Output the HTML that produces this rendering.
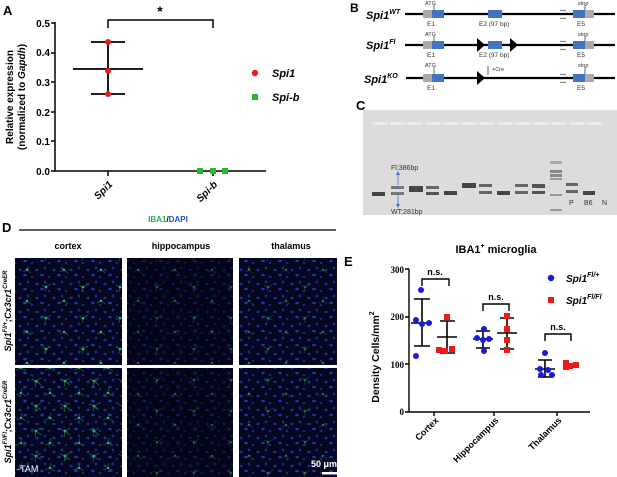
<!DOCTYPE html>
<html><head><meta charset="utf-8"><style>
body{margin:0;background:#fff}
svg{display:block;font-family:"Liberation Sans",Arial,sans-serif}
</style></head><body>
<svg width="617" height="477" viewBox="0 0 617 477" xmlns="http://www.w3.org/2000/svg">
<defs>
<pattern id="nuc" width="17" height="14" patternUnits="userSpaceOnUse">
<rect width="17" height="14" fill="#05071f"/>
<ellipse cx="3" cy="4" rx="1.6" ry="1.2" fill="#1c2fa8"/>
<ellipse cx="11" cy="2" rx="1.3" ry="1.5" fill="#1a2a95"/>
<ellipse cx="8" cy="9" rx="1.8" ry="1.3" fill="#2035b5"/>
<ellipse cx="15" cy="11" rx="1.3" ry="1.1" fill="#18288c"/>
</pattern>
<pattern id="mg" width="37" height="31" patternUnits="userSpaceOnUse">
<circle cx="9" cy="8" r="1.3" fill="#3fd9a0"/>
<path d="M5 6 L9 8 L14 5 M9 8 L8 13" stroke="#1a8040" stroke-width="0.6" fill="none"/>
<circle cx="27" cy="22" r="1.2" fill="#40d8b0"/>
<path d="M23 24 L27 22 L31 25" stroke="#177a40" stroke-width="0.6" fill="none"/>
</pattern>
<pattern id="mg2" width="29" height="25" patternUnits="userSpaceOnUse">
<circle cx="7" cy="6" r="1.3" fill="#3fd9a0"/>
<path d="M2 4 L7 6 L12 3 M7 6 L6 12 M7 6 L12 10" stroke="#1c8a48" stroke-width="0.6" fill="none"/>
<circle cx="21" cy="18" r="1.2" fill="#40d8b0"/>
<path d="M16 20 L21 18 L26 21 M21 18 L22 13" stroke="#1a8040" stroke-width="0.6" fill="none"/>
</pattern>
</defs>

<!-- Panel A -->
<text x="3" y="15" font-size="13" font-weight="bold">A</text>
<g font-size="10" font-weight="bold" text-anchor="end">
<text x="50" y="27">0.5</text><text x="50" y="56">0.4</text><text x="50" y="86">0.3</text>
<text x="50" y="116">0.2</text><text x="50" y="145">0.1</text><text x="50" y="175">0.0</text>
</g>
<g stroke="#000" stroke-width="1.5" fill="none">
<path d="M55 22 V171 H266"/>
<path d="M51 23H55 M51 53H55 M51 82H55 M51 112H55 M51 141H55 M51 171H55"/>
<path d="M108 171V176 M213 171V176"/>
<path d="M108 28V20H213V28"/>
<path d="M73 69H143 M91 42H125 M91 94H125 M108 42V94" stroke-width="1.8"/>
</g>
<text x="160" y="16" font-size="14" font-weight="bold" text-anchor="middle">*</text>
<circle cx="108" cy="42" r="3" fill="#f01818"/><circle cx="108" cy="71" r="3" fill="#f01818"/><circle cx="108" cy="94" r="3" fill="#f01818"/>
<rect x="197" y="168" width="6" height="6" fill="#2cb82c"/><rect x="210" y="168" width="6" height="6" fill="#2cb82c"/><rect x="222" y="168" width="6" height="6" fill="#2cb82c"/>
<circle cx="255" cy="73" r="3.2" fill="#f01818"/><rect x="252" y="94" width="6" height="6" fill="#2cb82c"/>
<text x="272" y="77" font-size="11" font-weight="bold" font-style="italic">Spi1</text>
<text x="272" y="101" font-size="11" font-weight="bold" font-style="italic">Spi-b</text>
<g font-size="10" font-weight="bold" text-anchor="middle">
<text transform="translate(13,97) rotate(-90)">Relative expression</text>
<text transform="translate(25,97) rotate(-90)">(normalized to <tspan font-style="italic">Gapdh</tspan>)</text>
</g>
<g font-size="10" font-weight="bold" font-style="italic" text-anchor="end">
<text transform="translate(113,185) rotate(-45)">Spi1</text>
<text transform="translate(218,185) rotate(-45)">Spi-b</text>
</g>

<!-- Panel B -->
<text x="350" y="12" font-size="12" font-weight="bold">B</text>
<g font-size="11" font-weight="bold" font-style="italic">
<text x="366" y="19">Spi1<tspan font-size="7" dy="-5">WT</tspan></text>
<text x="366" y="49">Spi1<tspan font-size="7" dy="-5">Fl</tspan></text>
<text x="364" y="83">Spi1<tspan font-size="7" dy="-5">KO</tspan></text>
</g>
<g stroke="#000" stroke-width="2.2"><path d="M405 14H615 M405 45H615 M406 78H615"/></g>
<g>
<rect x="423" y="10" width="10" height="8" fill="#aaa"/><rect x="432" y="10" width="12" height="8" fill="#4472c4"/>
<rect x="488" y="10" width="14" height="8" fill="#4472c4"/>
<rect x="573" y="10" width="12" height="8" fill="#4472c4"/><rect x="585" y="10" width="9" height="8" fill="#aaa"/>
<rect x="423" y="41" width="10" height="8" fill="#aaa"/><rect x="432" y="41" width="12" height="8" fill="#4472c4"/>
<rect x="488" y="41" width="14" height="8" fill="#4472c4"/>
<rect x="573" y="41" width="12" height="8" fill="#4472c4"/><rect x="585" y="41" width="9" height="8" fill="#aaa"/>
<polygon points="477,38 485,45 477,52"/><polygon points="510,38 518,45 510,52"/>
<rect x="423" y="74" width="10" height="8" fill="#aaa"/><rect x="432" y="74" width="12" height="8" fill="#4472c4"/>
<polygon points="477,71 485,78 477,85"/>
<rect x="573" y="74" width="12" height="8" fill="#4472c4"/><rect x="585" y="74" width="9" height="8" fill="#aaa"/>
</g>
<g font-size="5.5" fill="#333">
<text x="425" y="5">ATG</text><text x="425" y="36">ATG</text><text x="425" y="67">ATG</text>
<text x="578" y="5">stop</text><text x="578" y="36">stop</text><text x="578" y="67">stop</text>
<text x="492" y="71">+Cre</text>
</g>
<path d="M434 5V10 M434 36V41 M434 67V74 M585 5V10 M585 36V41 M585 67V74 M488 66V75" stroke="#000" stroke-width="0.6"/>
<g font-size="6.5" fill="#333">
<text x="427" y="26">E1</text><text x="479" y="26">E2 (97 bp)</text><text x="577" y="26">E5</text>
<text x="427" y="57">E1</text><text x="479" y="57">E2 (97 bp)</text><text x="577" y="57">E5</text>
<text x="427" y="90">E1</text><text x="577" y="90">E5</text>
</g>
<g font-size="7" font-weight="bold"><text x="560" y="11">...</text><text x="560" y="19">...</text><text x="560" y="42">...</text><text x="560" y="50">...</text><text x="560" y="75">...</text><text x="560" y="83">...</text></g>

<!-- Panel C -->
<text x="356" y="110" font-size="13" font-weight="bold">C</text>
<rect x="363" y="110" width="254" height="105" fill="#dcdcdc"/>
<g fill="#eaeaea"><rect x="372" y="122" width="16" height="3"/><rect x="390" y="122" width="16" height="3"/><rect x="407" y="122" width="16" height="3"/><rect x="425" y="122" width="16" height="3"/><rect x="443" y="122" width="16" height="3"/><rect x="461" y="122" width="16" height="3"/><rect x="479" y="122" width="16" height="3"/><rect x="497" y="122" width="16" height="3"/><rect x="515" y="122" width="16" height="3"/><rect x="533" y="122" width="16" height="3"/><rect x="551" y="122" width="16" height="3"/><rect x="569" y="122" width="16" height="3"/><rect x="587" y="122" width="16" height="3"/></g>
<g fill="#444">
<rect x="372" y="192" width="13" height="4"/>
<rect x="391" y="186" width="13" height="3" fill="#777"/><rect x="391" y="192" width="13" height="3" fill="#777"/>
<rect x="409" y="186" width="14" height="6"/>
<rect x="426" y="186" width="13" height="3" fill="#666"/><rect x="426" y="192" width="13" height="3" fill="#555"/>
<rect x="444" y="191" width="13" height="4"/>
<rect x="462" y="183" width="14" height="5"/>
<rect x="479" y="184" width="13" height="3" fill="#666"/><rect x="479" y="191" width="13" height="3" fill="#666"/>
<rect x="497" y="191" width="13" height="4"/>
<rect x="515" y="184" width="13" height="3" fill="#666"/><rect x="515" y="191" width="13" height="3" fill="#666"/>
<rect x="532" y="184" width="13" height="4" fill="#555"/><rect x="532" y="191" width="13" height="3" fill="#555"/>
<rect x="550" y="161" width="12" height="3" fill="#aaa"/><rect x="550" y="170" width="12" height="3" fill="#888"/><rect x="550" y="174" width="12" height="3" fill="#888"/><rect x="550" y="178" width="12" height="2" fill="#999"/><rect x="550" y="194" width="12" height="2" fill="#999"/><rect x="550" y="209" width="12" height="2" fill="#999"/>
<rect x="566" y="183" width="12" height="3" fill="#666"/><rect x="566" y="190" width="12" height="3" fill="#666"/>
<rect x="583" y="191" width="12" height="4"/>
</g>
<path d="M398 174V185 M398 194V205" stroke="#4472c4" stroke-width="0.8"/>
<polygon points="396,175 398,171 400,175" fill="#4472c4"/><polygon points="396,204 398,208 400,204" fill="#4472c4"/>
<g font-size="7" fill="#333"><text x="391" y="170">Fl:386bp</text><text x="391" y="214">WT:281bp</text>
<text x="569" y="205">P</text><text x="584" y="205">B6</text><text x="602" y="205">N</text></g>

<!-- Panel D -->
<text x="2" y="232" font-size="13" font-weight="bold">D</text>
<text x="168" y="222" font-size="8" font-weight="bold" text-anchor="middle"><tspan fill="#28b050">IBA1</tspan>/<tspan fill="#2050d0">DAPI</tspan></text>
<line x1="19" y1="230" x2="336" y2="230" stroke="#000" stroke-width="1.3"/>
<g font-size="9" font-weight="bold" text-anchor="middle"><text x="68" y="249">cortex</text><text x="181" y="249">hippocampus</text><text x="291" y="249">thalamus</text></g>
<g>
<rect x="15" y="258" width="107" height="107" fill="url(#nuc)"/><rect x="15" y="258" width="107" height="107" fill="url(#mg)"/>
<rect x="127" y="258" width="106" height="107" fill="#03040f"/><rect x="127" y="258" width="106" height="107" fill="url(#nuc)" opacity="0.5"/><rect x="127" y="258" width="106" height="107" fill="url(#mg)" opacity="0.5"/>
<rect x="239" y="258" width="98" height="107" fill="url(#nuc)"/><rect x="239" y="258" width="98" height="107" fill="url(#mg)" opacity="0.6"/>
<rect x="15" y="368" width="107" height="109" fill="url(#nuc)"/><rect x="15" y="368" width="107" height="109" fill="url(#mg2)"/>
<rect x="127" y="368" width="106" height="109" fill="#03040f"/><rect x="127" y="368" width="106" height="109" fill="url(#nuc)" opacity="0.5"/><rect x="127" y="368" width="106" height="109" fill="url(#mg)" opacity="0.5"/>
<rect x="239" y="368" width="98" height="109" fill="url(#nuc)"/><rect x="239" y="368" width="98" height="109" fill="url(#mg)" opacity="0.6"/>
</g>
<g font-size="9" font-weight="bold" font-style="italic" text-anchor="middle">
<text transform="translate(11,311) rotate(-90)">Spi1<tspan font-size="6" dy="-4">Fl/+</tspan><tspan dy="4">;Cx3cr1</tspan><tspan font-size="6" dy="-4">CreER</tspan></text>
<text transform="translate(11,422) rotate(-90)">Spi1<tspan font-size="6" dy="-4">Fl/Fl</tspan><tspan dy="4">;Cx3cr1</tspan><tspan font-size="6" dy="-4">CreER</tspan></text>
</g>
<text x="17" y="472" font-size="9" fill="#fff">-TAM</text>
<text x="311" y="467" font-size="9" font-weight="bold" fill="#fff">50 μm</text>
<rect x="322" y="472" width="15" height="2.5" fill="#fff"/>

<!-- Panel E -->
<text x="344" y="266" font-size="13" font-weight="bold">E</text>
<text x="496" y="253" font-size="11" font-weight="bold" text-anchor="middle">IBA1<tspan font-size="7" dy="-5">+</tspan><tspan dy="5"> microglia</tspan></text>
<g font-family="Liberation Serif,serif" font-size="9" font-weight="bold" text-anchor="end">
<text x="404" y="273">300</text><text x="404" y="320">200</text><text x="404" y="368">100</text><text x="404" y="415">0</text>
</g>
<g stroke="#000" stroke-width="1.4" fill="none">
<path d="M409 269V412H590 M405 269H409 M405 317H409 M405 364H409 M405 412H409 M434 412V416 M494 412V416 M557 412V416"/>
<path d="M422 286V279H449V286 M483 311V304H509V311 M545 341V334H571V341"/>
<g stroke-width="1.6">
<path d="M411 323H432 M414 299H430 M414 346H430 M422 299V346"/>
<path d="M437 337H457 M440 321H455 M440 353H455 M447 321V353"/>
<path d="M473 339H493 M476 331H490 M476 348H490 M483 331V348"/>
<path d="M497 333H517 M500 318H514 M500 349H514 M507 318V349"/>
<path d="M535 369H555 M538 360H552 M538 377H552 M545 360V377"/>
</g>
</g>
<g font-size="9" font-weight="bold" text-anchor="middle"><text x="435" y="275">n.s.</text><text x="496" y="300">n.s.</text><text x="558" y="330">n.s.</text></g>
<g fill="#1818e0">
<circle cx="421" cy="290" r="3"/><circle cx="416" cy="320" r="3"/><circle cx="422" cy="324" r="3"/><circle cx="429" cy="323" r="3"/><circle cx="416" cy="356" r="3"/>
<circle cx="484" cy="329" r="3"/><circle cx="477" cy="338" r="3"/><circle cx="483" cy="340" r="3"/><circle cx="489" cy="339" r="3"/><circle cx="484" cy="351" r="3"/>
<circle cx="545" cy="353" r="3"/><circle cx="540" cy="369" r="3"/><circle cx="548" cy="370" r="3"/><circle cx="541" cy="375" r="3"/><circle cx="552" cy="375" r="3"/>
</g>
<g fill="#f01818">
<rect x="444" y="314" width="6" height="6"/><rect x="436" y="347" width="6" height="6"/><rect x="449" y="346" width="6" height="6"/><rect x="442" y="348" width="6" height="6"/>
<rect x="504" y="313" width="6" height="6"/><rect x="504" y="326" width="6" height="6"/><rect x="504" y="337" width="6" height="6"/><rect x="504" y="347" width="6" height="6"/>
<rect x="563" y="360" width="6" height="6"/><rect x="567" y="363" width="6" height="6"/><rect x="573" y="362" width="6" height="6"/><rect x="563" y="364" width="6" height="6"/>
</g>
<circle cx="551" cy="278" r="3.2" fill="#1818e0"/><rect x="548" y="297" width="6" height="6" fill="#f01818"/>
<g font-size="10" font-weight="bold" font-style="italic">
<text x="566" y="282">Spi1<tspan font-size="7" dy="-5">Fl/+</tspan></text>
<text x="566" y="304">Spi1<tspan font-size="7" dy="-5">Fl/Fl</tspan></text>
</g>
<text transform="translate(379,357) rotate(-90)" font-size="10.5" font-weight="bold" text-anchor="middle">Density Cells/mm<tspan font-size="7" dy="-5">2</tspan></text>
<g font-size="9" font-weight="bold" text-anchor="end">
<text transform="translate(439,421) rotate(-45)">Cortex</text>
<text transform="translate(499,421) rotate(-45)">Hippocampus</text>
<text transform="translate(562,421) rotate(-45)">Thalamus</text>
</g>
</svg>
</body></html>
